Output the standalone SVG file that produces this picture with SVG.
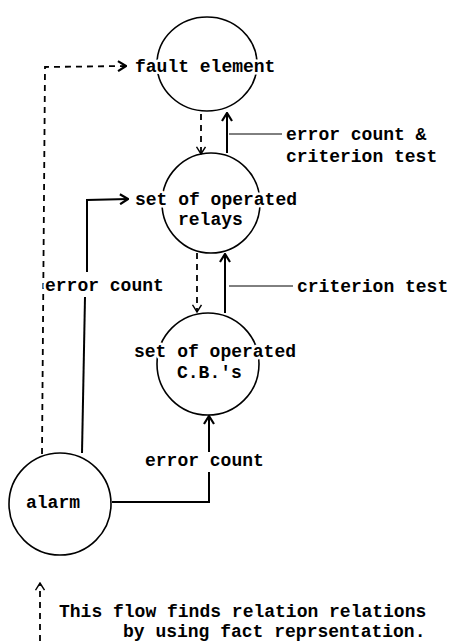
<svg xmlns="http://www.w3.org/2000/svg" width="449" height="641" viewBox="0 0 449 641">
<style>
.node{fill:none;stroke:#000;stroke-width:1.6}
.t{font-family:"Liberation Mono","Courier New",monospace;font-size:18px;font-weight:bold;fill:#000;stroke:#fff;stroke-width:5;paint-order:stroke;stroke-linejoin:round}
.sol{fill:none;stroke:#000;stroke-width:2}
.dash{fill:none;stroke:#000;stroke-width:1.8;stroke-dasharray:6 5}
.lead{fill:none;stroke:#000;stroke-width:1}
</style>
<defs>
<marker id="ah" viewBox="0 0 10 12" refX="9" refY="6" markerWidth="10" markerHeight="12" markerUnits="userSpaceOnUse" orient="auto">
<path d="M1,1 L9,6 L1,11" fill="none" stroke="#000" stroke-width="2.2" stroke-dasharray="none"/>
</marker>
<marker id="ahs" viewBox="0 0 10 12" refX="9" refY="6" markerWidth="9" markerHeight="11" markerUnits="userSpaceOnUse" orient="auto">
<path d="M1,1 L9,6 L1,11" fill="none" stroke="#000" stroke-width="1.6" stroke-dasharray="none"/>
</marker>
</defs>
<rect width="449" height="641" fill="#fff"/>
<g id="connectors">
<path class="dash" d="M42,454 L45,67 L126,66" marker-end="url(#ah)"/>
<path class="sol" d="M87,272 L87,200 L128,199" marker-end="url(#ah)"/>
<path class="sol" d="M85,297 L82,453"/>
<path class="dash" d="M201,114 L201,154" marker-end="url(#ahs)"/>
<path class="sol" d="M227,153 L227,113" marker-end="url(#ah)"/>
<path class="lead" d="M229,134 L282,134"/>
<path class="dash" d="M197,253 L197,312" marker-end="url(#ahs)"/>
<path class="sol" d="M225,313 L225,254" marker-end="url(#ah)"/>
<path class="lead" d="M229,286 L293,286"/>
<path class="sol" d="M112,502 L209,502 L209,472"/>
<path class="sol" d="M209,452 L209,416" marker-end="url(#ah)"/>
<path class="dash" d="M40,641 L40,583" marker-end="url(#ahs)"/>
</g>
<g id="fault-element">
<ellipse class="node" cx="207" cy="64" rx="50" ry="47"/>
<text class="t" x="135" y="72">fault element</text>
</g>
<g id="relays">
<ellipse class="node" cx="211" cy="203" rx="49" ry="50"/>
<text class="t" x="135" y="205">set of operated</text>
<text class="t" x="178" y="225">relays</text>
</g>
<g id="cbs">
<ellipse class="node" cx="208" cy="364" rx="51" ry="51"/>
<text class="t" x="134" y="357">set of operated</text>
<text class="t" x="177" y="378">C.B.'s</text>
</g>
<g id="alarm">
<circle class="node" cx="60" cy="504" r="51"/>
<text class="t" x="26" y="508">alarm</text>
</g>
<g id="labels">
<text class="t" x="286" y="140">error count &amp;</text>
<text class="t" x="286" y="162">criterion test</text>
<text class="t" x="297" y="292">criterion test</text>
<text class="t" x="45" y="291">error count</text>
<text class="t" x="145" y="466">error count</text>
<text class="t" x="59" y="617">This flow finds relation relations</text>
<text class="t" x="123" y="637">by using fact reprsentation.</text>
</g>
</svg>
